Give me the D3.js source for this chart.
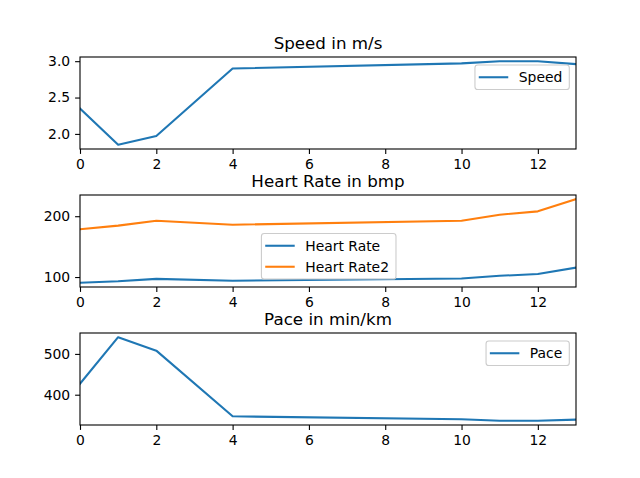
<!DOCTYPE html>
<html><head><meta charset="utf-8">
<script src="https://cdn.jsdelivr.net/npm/d3@7"></script>
<style>body{margin:0;background:#fff}svg{display:block}text{font-family:"DejaVu Sans",sans-serif;fill:#000}</style>
</head><body><svg id="c" width="640" height="478"></svg>
<script>
const xs = [0, 1, 2, 4, 10, 11, 12, 13];
const speed = [2.35, 1.85, 1.97, 2.90, 2.97, 3.00, 3.00, 2.96];
const heartRate = [90.5, 93, 97, 94, 97.5, 102, 105, 115.5];
const heartRate2 = [178.5, 184.5, 192.5, 186, 192.5, 202.5, 208, 228];
const pace = [427, 541, 508, 347, 340, 336, 336, 339];
const xTicks = [0, 2, 4, 6, 8, 10, 12];
const speedTicks = [2.0, 2.5, 3.0];
const hrTicks = [100, 200];
const paceTicks = [400, 500];
const titles = ["Speed in m/s", "Heart Rate in bmp", "Pace in min/km"];

const C1 = "#1f77b4", C2 = "#ff7f0e";
const svg = d3.select("#c");
const L = 80, R = 576, H = 92, tops = [57, 195, 333];
const FS = 13.9, TL = 4.9;

const panels = [
  {series: [{name: "Speed", v: speed, c: C1}], ticks: speedTicks, fmt: d3.format(".1f"), legend: "ur"},
  {series: [{name: "Heart Rate", v: heartRate, c: C1}, {name: "Heart Rate2", v: heartRate2, c: C2}], ticks: hrTicks, fmt: d3.format("d"), legend: "lc"},
  {series: [{name: "Pace", v: pace, c: C1}], ticks: paceTicks, fmt: d3.format("d"), legend: "ur"}
];

panels.forEach((p, i) => {
  const top = tops[i], bot = top + H;
  const all = p.series.flatMap(s => s.v);
  const mn = d3.min(all), mx = d3.max(all), m = (mx - mn) * 0.05;
  const x = d3.scaleLinear().domain([0, 13]).range([L, R]);
  const y = d3.scaleLinear().domain([mn - m, mx + m]).range([bot, top]);
  const g = svg.append("g");
  const clipId = "clip" + i;
  g.append("clipPath").attr("id", clipId).append("rect").attr("x", L).attr("y", top).attr("width", R - L).attr("height", H);
  const line = d3.line().x((d, j) => x(xs[j])).y(d => y(d));
  p.series.forEach(s => {
    g.append("path").attr("d", line(s.v)).attr("fill", "none").attr("stroke", s.c)
      .attr("stroke-width", 2.08).attr("stroke-linejoin", "round").attr("stroke-linecap", "square")
      .attr("clip-path", `url(#${clipId})`);
  });
  const xa = g.append("g").attr("transform", `translate(0,${bot})`)
    .call(d3.axisBottom(x).tickValues(xTicks).tickSize(TL).tickPadding(4.9).tickFormat(d3.format("d")));
  const ya = g.append("g").attr("transform", `translate(${L},0)`)
    .call(d3.axisLeft(y).tickValues(p.ticks).tickSize(TL).tickPadding(4.9).tickFormat(p.fmt));
  [xa, ya].forEach(a => {
    a.select(".domain").remove();
    a.selectAll("line").attr("stroke", "#000").attr("stroke-width", 1.1);
    a.selectAll("text").attr("font-size", FS).attr("font-family", "DejaVu Sans").attr("fill", "#000");
  });
  g.append("rect").attr("x", L).attr("y", top).attr("width", R - L).attr("height", H)
    .attr("fill", "none").attr("stroke", "#000").attr("stroke-width", 1.1);
  g.append("text").attr("x", (L + R) / 2).attr("y", top - 8.3).attr("text-anchor", "middle")
    .attr("font-size", 16.7).text(titles[i]);
  // legend
  const padL = 3.8, hl = 29.5, htp = 10.5, padR = 7, rowStep = 21, single = 24.5;
  const tmp = g.append("text").attr("font-size", FS);
  const tw = d3.max(p.series, s => { tmp.text(s.name); return tmp.node().getComputedTextLength(); });
  tmp.remove();
  const bw = padL + hl + htp + tw + padR;
  const bh = single + (p.series.length - 1) * rowStep;
  let bx, by;
  if (p.legend === "ur") { bx = R - 6.7 - bw; by = top + 8; }
  else { bx = (L + R) / 2 - bw / 2 + 0.7; by = bot - 8 - bh; }
  const lg = g.append("g");
  lg.append("rect").attr("x", bx).attr("y", by).attr("width", bw).attr("height", bh).attr("rx", 2.8)
    .attr("fill", "rgba(255,255,255,0.8)").attr("stroke", "#cccccc").attr("stroke-width", 1.1);
  p.series.forEach((s, j) => {
    const cy = by + single / 2 + j * rowStep;
    lg.append("line").attr("x1", bx + padL).attr("x2", bx + padL + hl).attr("y1", cy).attr("y2", cy)
      .attr("stroke", s.c).attr("stroke-width", 2.08);
    lg.append("text").attr("x", bx + padL + hl + htp).attr("y", cy + 5).attr("font-size", FS).text(s.name);
  });
});
</script></body></html>
